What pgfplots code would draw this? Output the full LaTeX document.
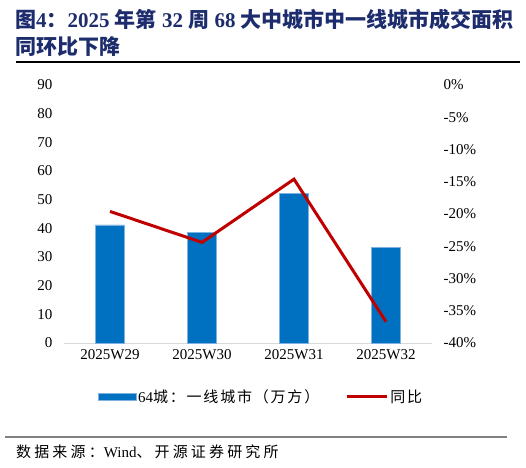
\documentclass[border=0pt]{standalone}
\usepackage{fontspec}
\setmainfont{Liberation Serif}
\newfontfamily\cjk{Noto Sans CJK SC}
\newfontfamily\cjksp{Noto Sans CJK SC}[LetterSpace=12]
\newfontfamily\cjksrc{Noto Sans CJK SC}[LetterSpace=21]
\usepackage{pgfplots}
\pgfplotsset{compat=1.18}
\definecolor{barblue}{HTML}{0070C0}
\definecolor{baredge}{HTML}{7FB2E0}
\definecolor{linered}{HTML}{C00000}
\definecolor{titleblue}{HTML}{1C2C6C}
\begin{document}
\begin{tikzpicture}[x=1pt,y=1pt]
\begin{axis}[
  at={(64pt,124pt)}, anchor=south west,
  scale only axis, width=368pt, height=258pt,
  xmin=-0.5, xmax=3.5, ymin=0, ymax=90,
  xtick={0,1,2,3},
  xticklabels={2025W29,2025W30,2025W31,2025W32},
  ytick={0,10,...,90},
  axis x line*=bottom, axis y line*=left,
  x axis line style={draw=black!15, line width=1pt, -},
  y axis line style={draw=none},
  major tick length=0pt,
  ticklabel style={font=\fontsize{15}{18}\selectfont},
  yticklabel style={xshift=-8pt},
  xticklabel style={yshift=-3pt},
  /pgf/number format/assume math mode=true,
  legend columns=2,
  legend style={at={(0.535,-0.209)}, anchor=center, draw=none,
    font=\fontsize{15}{18}\selectfont,
    /tikz/every even column/.append style={column sep=24pt}},
]
\addplot[ybar, bar width=28.7pt, fill=barblue, draw=baredge,
  legend image code/.code={\draw[fill=barblue, draw=baredge] (0pt,-3.5pt) rectangle (38pt,3.5pt);}]
  coordinates {(0,41.2) (1,38.5) (2,52.2) (3,33.3)};
\addlegendentry{64{\cjksp 城：一线城市（万方）}}
\addlegendimage{linered, line width=3pt,
  legend image code/.code={\draw[linered, line width=3pt] (0pt,0pt) -- (40pt,0pt);}}
\addlegendentry{\cjksp 同比}
\end{axis}

\begin{axis}[
  at={(64pt,124pt)}, anchor=south west,
  scale only axis, width=368pt, height=258pt,
  xmin=-0.5, xmax=3.5, ymin=-40, ymax=0,
  axis x line=none,
  axis y line*=right,
  y axis line style={draw=none},
  major tick length=0pt,
  ytick={-40,-35,...,0},
  yticklabels={-40\%,-35\%,-30\%,-25\%,-20\%,-15\%,-10\%,-5\%,0\%},
  yticklabel style={font=\fontsize{15}{18}\selectfont, anchor=west, xshift=8pt},
]
\addplot[linered, line width=3pt, mark=none]
  coordinates {(0,-19.6) (1,-24.4) (2,-14.6) (3,-36.7)};
\end{axis}

% title
\node[anchor=west, inner sep=0, text=titleblue, font=\fontsize{21}{24}\selectfont\bfseries]
  at (15,447) {{\cjk 图}4{\cjk ：}2025 {\cjk 年第} 32 {\cjk 周} 68 {\cjk 大中城市中一线城市成交面积}};
\node[anchor=west, inner sep=0, text=titleblue, font=\fontsize{21}{24}\selectfont\bfseries]
  at (15,420) {\cjk 同环比下降};
\draw[line width=1.2pt] (16,405) -- (520,405);

% source
\draw[black!50, line width=1.5pt] (5,30) -- (507,30);
\node[anchor=west, inner sep=0, font=\fontsize{15}{18}\selectfont]
  at (16,15) {\cjksrc 数据来源：{\rmfamily Wind}、开源证券研究所};
\path (0,0) rectangle (526,467);
\end{tikzpicture}
\end{document}
